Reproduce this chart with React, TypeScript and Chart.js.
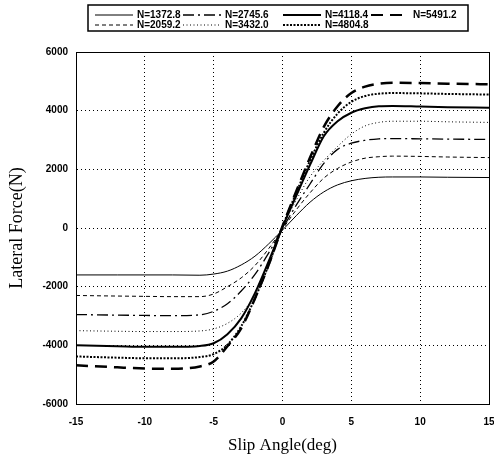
import { useEffect, useRef } from "react";
import { Chart, registerables } from "chart.js";

Chart.register(...registerables);

// Slip angle sample points (deg)
const slipAngles = [-15, -12, -10, -8, -6, -5, -4, -3, -2, -1, 0, 1, 2, 3, 4, 5, 6, 7, 8, 10, 12, 15];

// Vertical load labels
const loadLabels = ["N=1372.8", "N=2059.2", "N=2745.6", "N=3432.0", "N=4118.4", "N=4804.8", "N=5491.2"];

// Lateral force (N) for each load
const forceN1372 = [-1600, -1600, -1600, -1600, -1610, -1570, -1470, -1260, -960, -540, -70, 420, 880, 1230, 1470, 1610, 1690, 1730, 1740, 1740, 1730, 1720];
const forceN2059 = [-2300, -2320, -2330, -2340, -2340, -2250, -2000, -1700, -1280, -700, -40, 620, 1200, 1700, 2030, 2250, 2380, 2430, 2450, 2440, 2420, 2400];
const forceN2746 = [-2950, -2970, -2980, -2990, -2960, -2840, -2580, -2150, -1580, -850, -20, 780, 1500, 2200, 2680, 2890, 2990, 3040, 3050, 3040, 3030, 3020];
const forceN3432 = [-3500, -3520, -3530, -3530, -3510, -3440, -3250, -2900, -2300, -1300, 0, 950, 1750, 2300, 2780, 3200, 3480, 3600, 3640, 3640, 3620, 3600];
const forceN4118 = [-4000, -4030, -4050, -4050, -4020, -3930, -3620, -3080, -2220, -1130, 30, 1100, 2150, 3130, 3640, 3930, 4080, 4150, 4160, 4140, 4120, 4100];
const forceN4805 = [-4380, -4420, -4440, -4440, -4400, -4300, -3980, -3350, -2400, -1250, 50, 1200, 2300, 3250, 3900, 4300, 4500, 4580, 4600, 4590, 4570, 4550];
const forceN5491 = [-4680, -4750, -4790, -4800, -4720, -4550, -4030, -3420, -2400, -1250, 60, 1250, 2400, 3450, 4150, 4600, 4820, 4920, 4950, 4940, 4920, 4900];

const xTickValues = [-15, -10, -5, 0, 5, 10, 15];
const yTickValues = [-6000, -4000, -2000, 0, 2000, 4000, 6000];

const allForces = [forceN1372, forceN2059, forceN2746, forceN3432, forceN4118, forceN4805, forceN5491];

const lineStyles = [
  { width: 1, dash: [] as number[] },
  { width: 1, dash: [4, 3] },
  { width: 1.3, dash: [11, 4, 2, 4] },
  { width: 1, dash: [1, 2.5] },
  { width: 2, dash: [] as number[] },
  { width: 2, dash: [2, 1.5] },
  { width: 2.5, dash: [12, 7] },
];

const legendPlugin = {
  id: "boxLegend",
  afterDraw(chart: any) {
    const { ctx, chartArea } = chart;
    const boxL = chartArea.left + 12;
    const boxR = chartArea.right - 21;
    const boxT = 5;
    const boxB = 31;
    ctx.save();
    ctx.strokeStyle = "#000";
    ctx.lineWidth = 1.5;
    ctx.setLineDash([]);
    ctx.strokeRect(boxL, boxT, boxR - boxL, boxB - boxT);
    const textOffsets = [49, 137, 237, 325];
    ctx.font = "bold 10px 'Liberation Sans', Arial, sans-serif";
    ctx.textBaseline = "middle";
    ctx.textAlign = "left";
    ctx.fillStyle = "#000";
    chart.data.datasets.forEach((ds: any, i: number) => {
      const col = Math.floor(i / 2);
      const row = i % 2;
      const tx = boxL + textOffsets[col];
      const ty = boxT + 10 + row * 10;
      ctx.save();
      ctx.strokeStyle = "#000";
      ctx.lineWidth = Math.min(ds.borderWidth, 2);
      ctx.setLineDash(ds.borderDash || []);
      ctx.beginPath();
      ctx.moveTo(tx - 42, ty);
      ctx.lineTo(tx - 4, ty);
      ctx.stroke();
      ctx.restore();
      ctx.fillText(ds.label, tx, ty);
    });
    ctx.restore();
  },
};

const framePlugin = {
  id: "plotFrame",
  afterDatasetsDraw(chart: any) {
    const { ctx, chartArea } = chart;
    ctx.save();
    ctx.strokeStyle = "#000";
    ctx.lineWidth = 1;
    ctx.setLineDash([]);
    ctx.strokeRect(
      Math.round(chartArea.left) + 0.5,
      Math.round(chartArea.top) + 0.5,
      Math.round(chartArea.right - chartArea.left),
      Math.round(chartArea.bottom - chartArea.top)
    );
    ctx.restore();
  },
};

export default function App() {
  const canvasRef = useRef<HTMLCanvasElement | null>(null);

  useEffect(() => {
    if (!canvasRef.current) return;
    const datasets = allForces.map((forces, i) => ({
      label: loadLabels[i],
      data: slipAngles.map((x, j) => ({ x, y: forces[j] })),
      borderColor: "#000",
      backgroundColor: "#000",
      borderWidth: lineStyles[i].width,
      borderDash: lineStyles[i].dash,
      pointRadius: 0,
      fill: false,
      cubicInterpolationMode: "monotone" as const,
    }));

    const tickFont = { family: "'Liberation Sans', Arial, sans-serif", size: 10, weight: "bold" as const };

    const chart = new Chart(canvasRef.current, {
      type: "line",
      data: { datasets },
      options: {
        responsive: false,
        animation: false,
        layout: { padding: { top: 52, right: 5, left: 0, bottom: 0 } },
        plugins: {
          legend: { display: false },
          tooltip: { enabled: false },
        },
        scales: {
          x: {
            type: "linear",
            min: -15,
            max: 15,
            afterBuildTicks: (scale: any) => {
              scale.ticks = xTickValues.map((v) => ({ value: v }));
            },
            afterFit: (scale: any) => {
              scale.height = 57;
              scale.paddingLeft = 0;
              scale.paddingRight = 0;
            },
            ticks: {
              color: "#000",
              font: tickFont,
              padding: 12,
              maxRotation: 0,
              callback: (v: any) => String(v),
            },
            grid: { color: "#000", lineWidth: 1, drawTicks: false },
            border: { display: true, color: "#000", dash: [1, 3] },
            title: {
              display: true,
              text: "Slip Angle(deg)",
              color: "#000",
              font: { family: "'Liberation Serif', 'Times New Roman', serif", size: 17 },
              padding: { top: 0, bottom: 5 },
            },
          },
          y: {
            type: "linear",
            min: -6000,
            max: 6000,
            afterBuildTicks: (scale: any) => {
              scale.ticks = yTickValues.map((v) => ({ value: v }));
            },
            afterFit: (scale: any) => {
              scale.width = 76;
              scale.paddingTop = 0;
              scale.paddingBottom = 0;
            },
            ticks: {
              color: "#000",
              font: tickFont,
              padding: 8,
              callback: (v: any) => String(v),
            },
            grid: { color: "#000", lineWidth: 1, drawTicks: false },
            border: { display: true, color: "#000", dash: [1, 3] },
            title: {
              display: true,
              text: "Lateral Force(N)",
              color: "#000",
              font: { family: "'Liberation Serif', 'Times New Roman', serif", size: 18 },
              padding: { top: 6, bottom: 0 },
            },
          },
        },
      },
      plugins: [framePlugin, legendPlugin],
    });
    return () => chart.destroy();
  }, []);

  return (
    <div style={{ position: "fixed", left: 0, top: 0, width: 494, height: 461, background: "#fff" }}>
      <canvas ref={canvasRef} width={494} height={461} style={{ width: 494, height: 461, display: "block" }} />
    </div>
  );
}
